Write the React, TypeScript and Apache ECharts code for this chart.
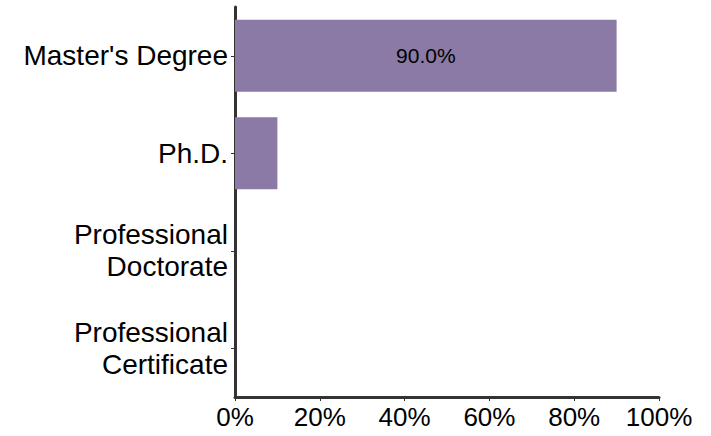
import React, { useEffect, useRef } from "react";
import * as echarts from "echarts";

const categories = ["Master's Degree", "Ph.D.", "Professional\nDoctorate", "Professional\nCertificate"];
const values = [90.0, 10.0, 0, 0];
const labelShown = [true, false, false, false];
const xTicks = [0, 20, 40, 60, 80, 100];

export default function App() {
  const ref = useRef<HTMLDivElement>(null);
  useEffect(() => {
    if (!ref.current) return;
    const chart = echarts.init(ref.current, null, { renderer: "svg" });
    chart.setOption({
      animation: false,
      grid: { left: 235, right: 52, top: 7, bottom: 39, containLabel: false },
      xAxis: {
        type: "value",
        min: xTicks[0],
        max: xTicks[xTicks.length - 1],
        interval: 20,
        axisLine: { show: true, lineStyle: { color: "#333", width: 3 } },
        axisTick: { show: true, length: 4, lineStyle: { color: "#333", width: 1 } },
        splitLine: { show: false },
        axisLabel: {
          formatter: "{value}%",
          color: "#000",
          fontSize: 26,
          fontFamily: "Liberation Sans, Arial, sans-serif",
          margin: 7,
        },
      },
      yAxis: {
        type: "category",
        inverse: true,
        data: categories,
        axisLine: { show: true, lineStyle: { color: "#333", width: 3 } },
        axisTick: { show: true, alignWithLabel: true, length: 4, lineStyle: { color: "#333", width: 1 } },
        axisLabel: {
          color: "#000",
          fontSize: 28,
          lineHeight: 32,
          fontFamily: "Liberation Sans, Arial, sans-serif",
          margin: 7,
          align: "right",
        },
      },
      series: [
        {
          type: "bar",
          data: values.map((v, i) => ({
            value: v,
            label: { show: labelShown[i] },
          })),
          barWidth: "74%",
          itemStyle: { color: "#8a7aa5" },
          label: {
            position: "inside",
            color: "#000",
            fontSize: 21,
            fontFamily: "Liberation Sans, Arial, sans-serif",
            formatter: (p: any) => `${Number(p.value).toFixed(1)}%`,
          },
        },
      ],
    });
    return () => chart.dispose();
  }, []);
  return (
    <div
      ref={ref}
      style={{ position: "fixed", left: 0, top: 0, width: 711, height: 436, background: "#fff" }}
    />
  );
}
